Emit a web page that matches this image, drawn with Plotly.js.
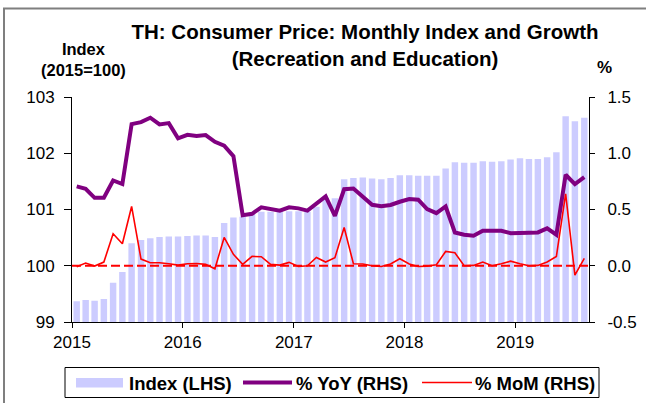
<!DOCTYPE html>
<html>
<head>
<meta charset="utf-8">
<script src="https://cdn.plot.ly/plotly-3.0.1.min.js"></script>
<style>
html,body{margin:0;padding:0;background:#fff;}
#chart{width:646px;height:403px;}
</style>
</head>
<body>
<div id="chart"></div>
<script>
var months = [
 '2015-01','2015-02','2015-03','2015-04','2015-05','2015-06','2015-07','2015-08','2015-09','2015-10','2015-11','2015-12',
 '2016-01','2016-02','2016-03','2016-04','2016-05','2016-06','2016-07','2016-08','2016-09','2016-10','2016-11','2016-12',
 '2017-01','2017-02','2017-03','2017-04','2017-05','2017-06','2017-07','2017-08','2017-09','2017-10','2017-11','2017-12',
 '2018-01','2018-02','2018-03','2018-04','2018-05','2018-06','2018-07','2018-08','2018-09','2018-10','2018-11','2018-12',
 '2019-01','2019-02','2019-03','2019-04','2019-05','2019-06','2019-07','2019-08'
];
var indexLHS = [
 99.37, 99.39, 99.38, 99.41, 99.70, 99.89, 100.40, 100.46, 100.49, 100.51, 100.52, 100.52,
 100.53, 100.54, 100.54, 100.51, 100.76, 100.86, 100.87, 100.93, 100.96, 100.96, 100.96, 100.97,
 100.97, 100.96, 101.05, 101.20, 101.20, 101.54, 101.56, 101.57, 101.55, 101.54, 101.56, 101.61,
 101.61, 101.60, 101.60, 101.60, 101.73, 101.84, 101.83, 101.83, 101.86, 101.85, 101.86, 101.89,
 101.91, 101.90, 101.90, 101.93, 102.02, 102.66, 102.57, 102.63
];
var yoyRHS = [
 0.705, 0.684, 0.604, 0.604, 0.758, 0.726, 1.259, 1.277, 1.316, 1.256, 1.268, 1.132,
 1.164, 1.153, 1.162, 1.102, 1.067, 0.975, 0.450, 0.462, 0.520, 0.505, 0.490, 0.520,
 0.510, 0.490, 0.550, 0.616, 0.444, 0.680, 0.687, 0.616, 0.542, 0.530, 0.540, 0.569,
 0.593, 0.587, 0.504, 0.468, 0.527, 0.296, 0.276, 0.267, 0.311, 0.311, 0.311, 0.290,
 0.290, 0.290, 0.296, 0.332, 0.276, 0.809, 0.726, 0.788
];
var momRHS = [
 -0.009, 0.024, -0.003, 0.033, 0.284, 0.196, 0.527, 0.059, 0.027, 0.027, 0.018, 0.006,
 0.018, 0.020, 0.012, -0.027, 0.252, 0.101, 0.012, 0.083, 0.080, 0.012, 0.006, 0.030,
 -0.006, 0.000, 0.074, 0.033, 0.071, 0.340, 0.018, 0.015, 0.000, -0.006, 0.015, 0.062,
 0.015, -0.006, -0.003, 0.009, 0.127, 0.115, 0.000, 0.003, 0.033, 0.000, 0.018, 0.041,
 0.018, 0.000, 0.003, 0.033, 0.083, 0.640, -0.083, 0.065
];
var seriesNames = ['Index (LHS)', '% YoY (RHS)', '% MoM (RHS)'];
var lhsTicks = [99, 100, 101, 102, 103];
var rhsTickVals = [-0.5, 0, 0.5, 1, 1.5];
var rhsTickText = ['-0.5', '0.0', '0.5', '1.0', '1.5'];

var FONT = 'Liberation Sans, Arial, sans-serif';
var W = 646, H = 403, ML = 72, MR = 57, MT = 97, MB = 81;
var PW = W - ML - MR, PH = H - MT - MB;
function px(x){ return (x - ML) / PW; }
function py(y){ return (H - MB - y) / PH; }

var traces = [
  {type:'bar', x:months, y:indexLHS, xperiod:'M1', xperiodalignment:'middle',
   marker:{color:'#ccccff'}, name:seriesNames[0], yaxis:'y', hoverinfo:'skip'},
  {type:'scatter', mode:'lines', x:months, y:yoyRHS, xperiod:'M1', xperiodalignment:'middle',
   line:{color:'#800080', width:4}, name:seriesNames[1], yaxis:'y2'},
  {type:'scatter', mode:'lines', x:months, y:momRHS, xperiod:'M1', xperiodalignment:'middle',
   line:{color:'#ff0000', width:1.6}, name:seriesNames[2], yaxis:'y2'}
];

var shapes = [
  {type:'line', xref:'paper', x0:0, x1:1, yref:'y2', y0:0, y1:0, layer:'above',
   line:{color:'#ff0000', width:2, dash:'9px,4px'}},
  {type:'rect', xref:'paper', yref:'paper', x0:px(4), x1:px(660), y0:py(8.5), y1:py(420),
   line:{color:'#7f7f7f', width:2}},
  {type:'rect', xref:'paper', yref:'paper', x0:px(65), x1:px(599), y0:py(367.5), y1:py(397.5),
   line:{color:'#000', width:1}, fillcolor:'#fff'},
  {type:'rect', xref:'paper', yref:'paper', x0:px(76), x1:px(123), y0:py(378), y1:py(387.5),
   line:{width:0}, fillcolor:'#ccccff'},
  {type:'line', xref:'paper', yref:'paper', x0:px(243), x1:px(292), y0:py(382.5), y1:py(382.5),
   line:{color:'#800080', width:4}},
  {type:'line', xref:'paper', yref:'paper', x0:px(422), x1:px(472), y0:py(382.5), y1:py(382.5),
   line:{color:'#ff0000', width:1.6}}
];

var legFont = {family:FONT, size:18.5, color:'#000', weight:'bold'};
var annotations = [
  {xref:'paper', yref:'paper', x:px(83), y:py(59), text:'Index<br>(2015=100)',
   showarrow:false, xanchor:'center', yanchor:'middle', align:'center',
   font:{family:FONT, size:16.5, color:'#000', weight:'bold'}},
  {xref:'paper', yref:'paper', x:px(604), y:py(67), text:'%',
   showarrow:false, xanchor:'center', yanchor:'middle', font:{family:FONT, size:17, color:'#000', weight:'bold'}},
  {xref:'paper', yref:'paper', x:px(127), y:py(383), text:seriesNames[0],
   showarrow:false, xanchor:'left', yanchor:'middle', font:legFont},
  {xref:'paper', yref:'paper', x:px(294), y:py(383), text:seriesNames[1],
   showarrow:false, xanchor:'left', yanchor:'middle', font:legFont},
  {xref:'paper', yref:'paper', x:px(473), y:py(383), text:seriesNames[2],
   showarrow:false, xanchor:'left', yanchor:'middle', font:legFont}
];

var tickFont = {family:FONT, size:17, color:'#000'};
var layout = {
  width:W, height:H,
  margin:{l:ML, r:MR, t:MT, b:MB, pad:0},
  paper_bgcolor:'#fff', plot_bgcolor:'#fff',
  showlegend:false,
  bargap:0.28,
  title:{text:'TH: Consumer Price: Monthly Index and Growth<br>(Recreation and Education)',
         xref:'paper', x:px(365), xanchor:'center',
         yref:'container', y:1 - 39/H, yanchor:'middle',
         font:{family:FONT, size:20.5, color:'#000', weight:'bold'}},
  xaxis:{type:'date', range:['2015-01-01','2019-09-01'],
         tick0:'2015-01-01', dtick:'M12', tickformat:'%Y',
         ticks:'outside', ticklen:5, tickcolor:'#000', tickwidth:1,
         showline:true, linecolor:'#000', linewidth:1, showgrid:false, zeroline:false,
         tickfont:tickFont, fixedrange:true},
  yaxis:{range:[99,103], tickmode:'array', tickvals:lhsTicks,
         ticks:'outside', ticklen:7, tickcolor:'#000', tickwidth:1,
         showline:true, linecolor:'#000', linewidth:1, showgrid:false, zeroline:false,
         tickfont:tickFont, ticklabelstandoff:6},
  yaxis2:{range:[-0.5,1.5], tickmode:'array', tickvals:rhsTickVals, ticktext:rhsTickText,
          overlaying:'y', side:'right', anchor:'x',
          ticks:'outside', ticklen:5, tickcolor:'#000', tickwidth:1,
          showline:true, linecolor:'#000', linewidth:1, showgrid:false, zeroline:false,
          tickfont:tickFont, ticklabelstandoff:9},
  shapes:shapes,
  annotations:annotations
};

Plotly.newPlot('chart', traces, layout, {staticPlot:true, displayModeBar:false});
</script>
</body>
</html>
